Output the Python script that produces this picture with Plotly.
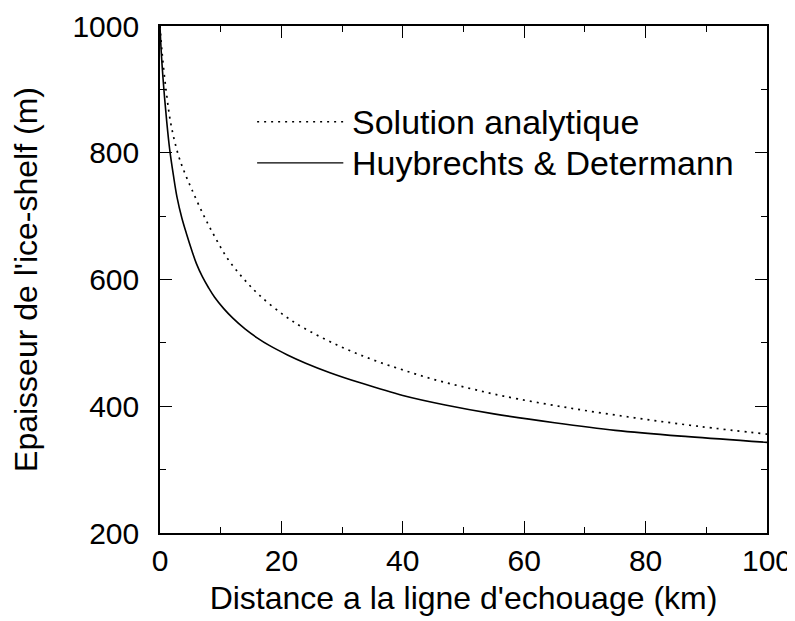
import plotly.graph_objects as go

# Solution analytique (pointillés)
x_analytique = [0, 0.35, 1.0, 1.8, 3.0, 4.0, 5.2, 7.1, 9.0, 11.2, 13.7, 16.4, 20.5,
                23.6, 29.1, 34.6, 40.1, 45.6, 51.1, 56.6, 67, 78, 89, 100]
h_analytique = [1000, 957, 899, 845, 797, 770, 743, 703, 668, 632, 602, 575, 543,
                524, 497, 475, 457, 441, 428, 416, 398, 382, 368, 356]

# Huybrechts & Determann (trait plein)
x_huyb = [0, 0.2, 0.6, 1.1, 1.6, 2.2, 2.8, 3.6, 4.4, 5.2, 6.0, 7.0, 8.0, 9.0, 10.5,
          12.0, 14.0, 16.0, 18.0, 21.0, 24.0, 28, 33, 40, 47, 55, 65, 75, 87, 100]
h_huyb = [1000, 960, 905, 850, 805, 765, 730, 697, 671, 647, 625, 604, 587, 572, 554,
          539, 522, 508, 496, 481, 468, 453, 437, 417, 402, 388, 374, 362, 352, 343]

noms = ["Solution analytique", "Huybrechts & Determann"]
x_ticks = [0, 20, 40, 60, 80, 100]
y_ticks = [200, 400, 600, 800, 1000]

police = "Liberation Sans, Arial, Helvetica, sans-serif"
pointille = "2px,5px"

fig = go.Figure()
fig.add_trace(go.Scatter(x=x_analytique, y=h_analytique, mode="lines", name=noms[0],
                         line=dict(color="black", width=1.7, dash=pointille, shape="spline"),
                         showlegend=False))
fig.add_trace(go.Scatter(x=x_huyb, y=h_huyb, mode="lines", name=noms[1],
                         line=dict(color="black", width=1.6, shape="spline"),
                         showlegend=False))

# légende dessinée à la main (traits longs comme sur l'original)
for i, (nom, dash) in enumerate(zip(noms, [pointille, "solid"])):
    yy = 0.811 - i * 0.081
    fig.add_shape(type="line", xref="paper", yref="paper", x0=0.16, x1=0.302,
                  y0=yy, y1=yy, line=dict(color="black", width=1.4, dash=dash))
    fig.add_annotation(x=0.313, y=yy, xref="paper", yref="paper", text=nom,
                       showarrow=False, xanchor="left", yanchor="middle",
                       font=dict(size=34, color="black", family=police))

axe = dict(showline=True, linecolor="black", linewidth=1.6, mirror="allticks",
           ticks="inside", ticklen=12, tickwidth=1.4, tickcolor="black",
           showgrid=False, zeroline=False, automargin=False,
           tickfont=dict(size=30, color="black", family=police))

fig.update_xaxes(range=[0, 100], tickvals=x_ticks, ticklabelstandoff=0,
                 minor=dict(dtick=10, ticks="inside", ticklen=6, tickwidth=1.2, tickcolor="black"),
                 title=dict(text="Distance a la ligne d'echouage (km)", standoff=11,
                            font=dict(size=32, color="black", family=police)),
                 **axe)
fig.update_yaxes(range=[200, 1000], tickvals=y_ticks, ticklabelstandoff=13,
                 minor=dict(dtick=100, ticks="inside", ticklen=6, tickwidth=1.2, tickcolor="black"),
                 title=dict(text="Epaisseur de l'ice-shelf (m)", standoff=28,
                            font=dict(size=32, color="black", family=police)),
                 **axe)

# la page ajoute 8 px de marge : on compense dans les marges
fig.update_layout(width=795, height=621, plot_bgcolor="white", paper_bgcolor="white",
                  margin=dict(l=152, r=36, t=18, b=96))

fig.write_html("out.html")
